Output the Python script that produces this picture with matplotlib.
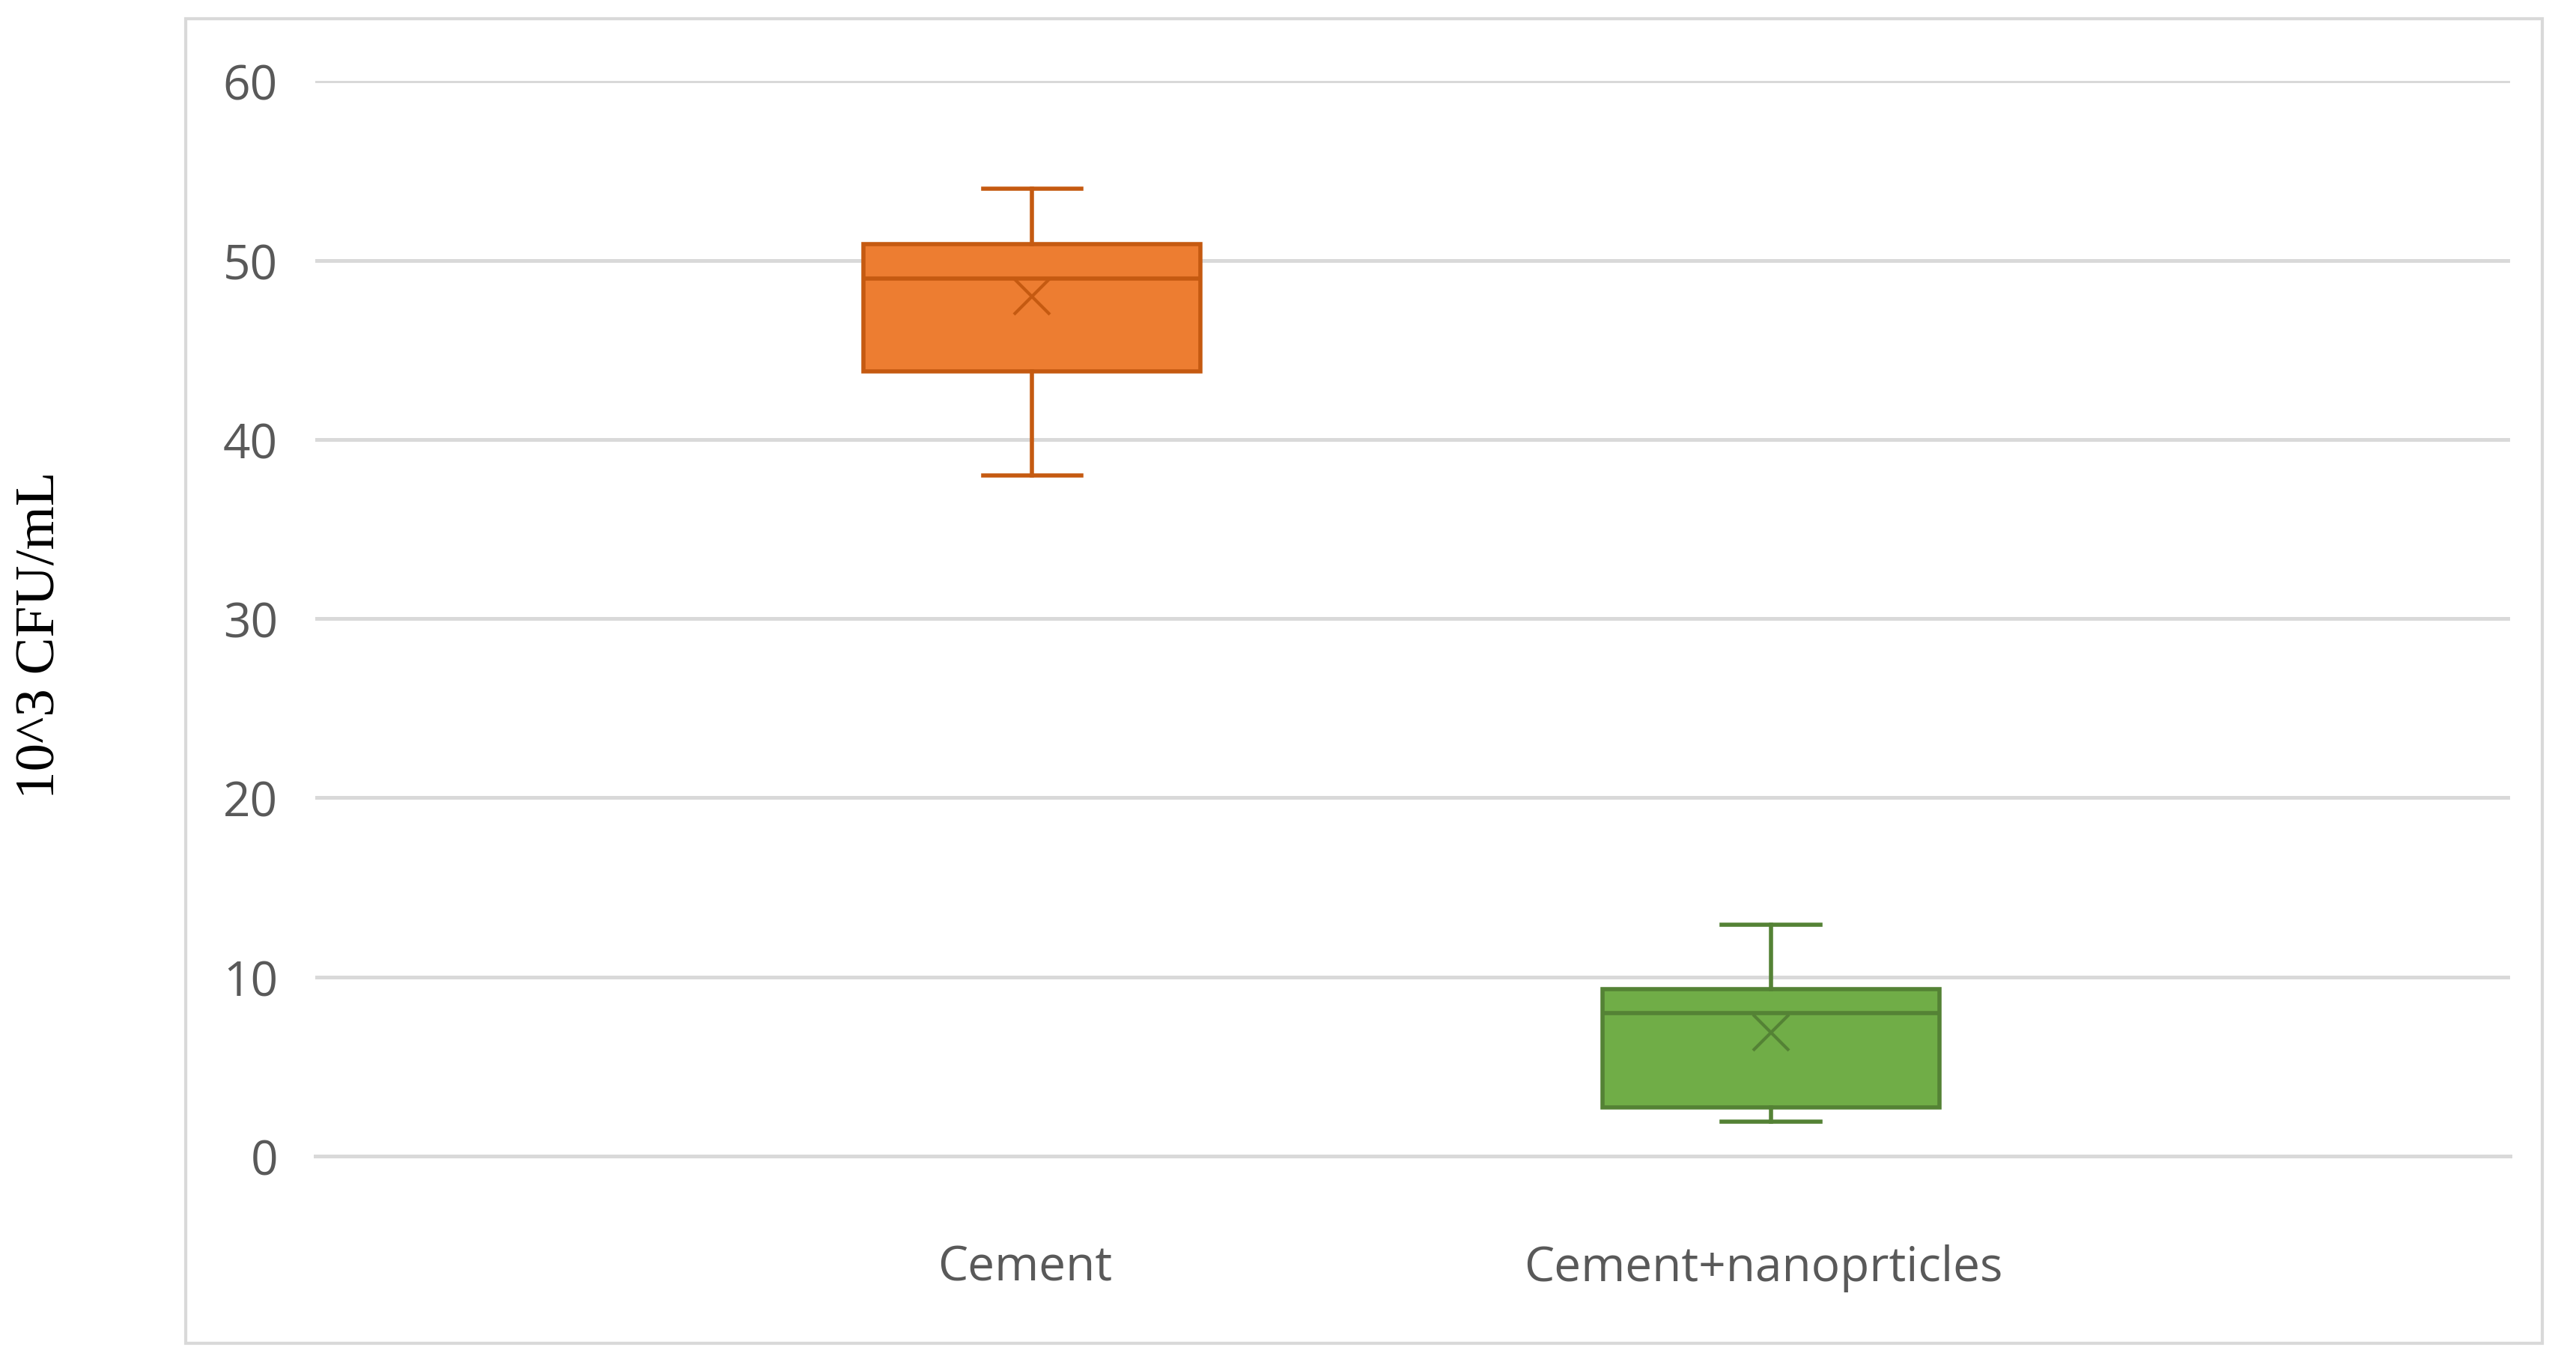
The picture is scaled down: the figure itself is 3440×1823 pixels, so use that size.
import matplotlib.pyplot as plt
from matplotlib.patches import Rectangle

# data
groups = ["Cement", "Cement+nanoprticles"]
whislo = [38, 1.9]
q1 = [43.8, 2.7]
med = [49, 8]
q3 = [50.9, 9.3]
whishi = [54, 12.9]
means = [48, 6.9]

fills = ["#ED7D31", "#70AD47"]
edges = ["#C55A11", "#548235"]

fig = plt.figure(figsize=(17.2, 9.12), dpi=200)
fig.patches.append(Rectangle((0.072, 0.016), 0.915, 0.97, transform=fig.transFigure,
                             fill=False, edgecolor="#D9D9D9", linewidth=1.5))
ax = fig.add_axes([0.1224, 0.153, 0.852, 0.787])

for i in range(len(groups)):
    st = [dict(whislo=whislo[i], q1=q1[i], med=med[i], q3=q3[i], whishi=whishi[i],
               mean=means[i], fliers=[], label=groups[i])]
    ax.bxp(st, positions=[i + 1], widths=0.456, patch_artist=True, showmeans=True,
           boxprops=dict(facecolor=fills[i], edgecolor=edges[i], linewidth=2),
           medianprops=dict(color=edges[i], linewidth=2),
           whiskerprops=dict(color=edges[i], linewidth=2),
           capprops=dict(color=edges[i], linewidth=2), capwidths=0.133,
           meanprops=dict(marker="x", markeredgecolor=edges[i], markersize=17,
                          markeredgewidth=1.5))

ax.set_xlim(0.03, 3.0)
ax.set_ylim(0, 60)
ax.set_yticks(range(0, 61, 10))
ax.set_xticks([0.99, 1.99])
ax.set_xticklabels(groups)
ax.grid(axis="y", color="#D9D9D9", linewidth=1.8)
ax.set_axisbelow(True)
for s in ["top", "right", "left"]:
    ax.spines[s].set_visible(False)
ax.spines["bottom"].set_color("#D9D9D9")
ax.spines["bottom"].set_linewidth(1.8)
ax.tick_params(length=0, labelsize=23, labelcolor="#595959")
ax.tick_params(axis="y", pad=18)
ax.tick_params(axis="x", pad=42)
for t in ax.get_xticklabels() + ax.get_yticklabels():
    t.set_fontfamily("Open Sans")
fig.text(0.016, 0.535, "10^3 CFU/mL", rotation=90, va="center", ha="center",
         fontsize=27, family="Liberation Serif")

fig.savefig("out.png", dpi=200)
